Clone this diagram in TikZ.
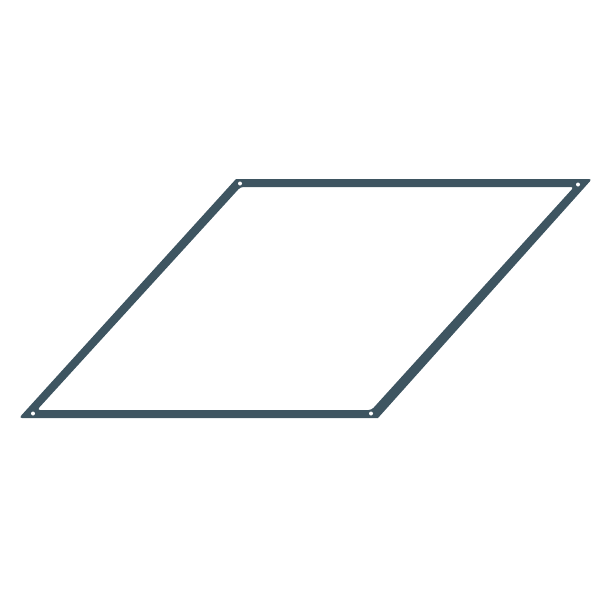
\documentclass[tikz,border=0pt]{standalone}
\definecolor{frame}{HTML}{3E5561}
\tikzset{framefill/.style={fill=frame,even odd rule},hole/.style={fill=white,draw=none}}
\begin{document}
\begin{tikzpicture}[x=1pt,y=-1pt]
\useasboundingbox (0,0) rectangle (600,600);
\fill[framefill]
  (19,418) -- (236,179) [rounded corners=3] -- (592,179) [sharp corners] -- (378,418) [rounded corners=3] -- cycle
  (37,410) -- (240.5,187) -- (574,187) -- (371.5,410) -- cycle;
\fill[hole] (240,183.5) circle (2);
\fill[hole] (578,184.5) circle (2);
\fill[hole] (33,413.5) circle (2);
\fill[hole] (371,413.5) circle (2);
\end{tikzpicture}
\end{document}
